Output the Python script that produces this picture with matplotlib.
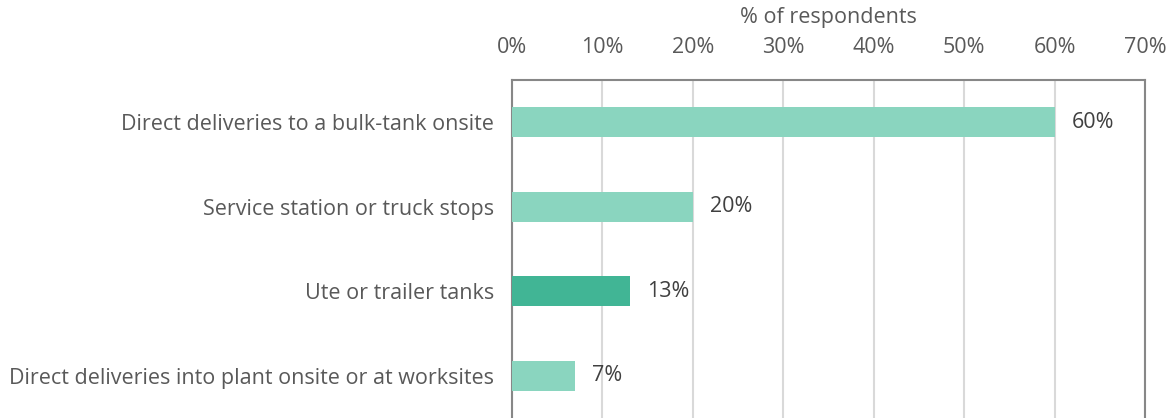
import matplotlib.pyplot as plt
from matplotlib.ticker import PercentFormatter

# Data (top to bottom)
categories = [
    'Direct deliveries to a bulk-tank onsite',
    'Service station or truck stops',
    'Ute or trailer tanks',
    'Direct deliveries into plant onsite or at worksites',
]
values = [60, 20, 13, 7]
bar_colors = ['#8ad5bf', '#8ad5bf', '#41b595', '#8ad5bf']

text_color = '#595959'
plt.rcParams['font.family'] = ['Open Sans', 'DejaVu Sans']
fs = 15.5

fig = plt.figure(figsize=(11.67, 4.18), dpi=100)
W, H = 1167, 418
# axes placed in pixel coords: left 512, right 1145, top 80, bottom 418
ax = fig.add_axes([512 / W, 0 / H, (1145 - 512) / W, (418 - 80) / H])

y = range(len(categories))
ax.barh(y, values, height=0.36, color=bar_colors, zorder=3)

ax.set_xlim(0, 70)
ax.set_ylim(3.5, -0.5)
ax.set_xticks(range(0, 71, 10))
ax.xaxis.set_major_formatter(PercentFormatter(decimals=0))
ax.xaxis.tick_top()
ax.xaxis.set_label_position('top')
ax.set_xlabel('% of respondents', fontsize=fs, color=text_color, labelpad=10)

ax.set_yticks(list(y))
ax.set_yticklabels(categories)
ax.tick_params(axis='y', length=0, pad=13, labelsize=fs, labelcolor=text_color)
ax.tick_params(axis='x', length=0, pad=16, labelsize=fs, labelcolor=text_color)

ax.grid(axis='x', color='#d9d9d9', linewidth=1.5, zorder=0)
for side in ['left', 'top', 'right']:
    ax.spines[side].set_color('#878787')
    ax.spines[side].set_linewidth(1.5)
ax.spines['bottom'].set_visible(False)

for yi, v in zip(y, values):
    ax.text(v + 1.9, yi, f'{v}%', va='center', ha='left',
            fontsize=fs, color='#404040')

fig.savefig('out.png', dpi=100)
